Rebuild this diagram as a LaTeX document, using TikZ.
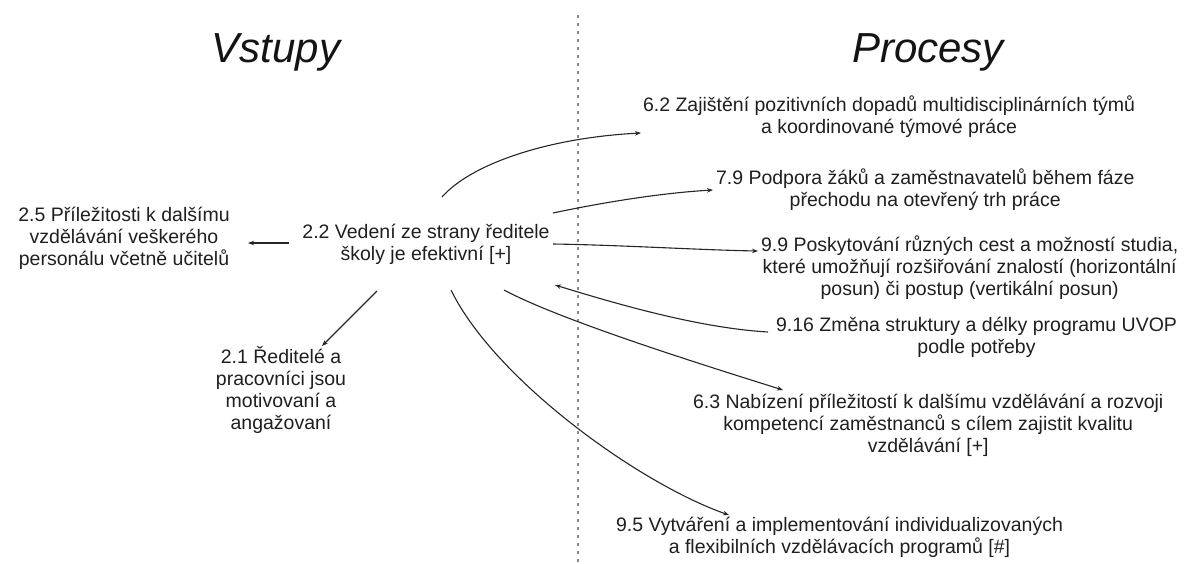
\documentclass[tikz,border=0pt]{standalone}
\usepackage{fontspec}
\setmainfont{Liberation Sans}
\usetikzlibrary{arrows.meta}
\begin{document}
\begin{tikzpicture}[x=1pt,y=-1pt,
  every node/.style={inner sep=0pt, outer sep=0pt},
  txt/.style={align=center, font=\fontsize{19.5}{22}\selectfont, text=black!88},
  head/.style={anchor=base, font=\fontsize{42}{48}\selectfont\itshape, text=black!92},
  link/.style={draw=black!85, line width=1.1pt, -{Stealth[length=6pt,width=4.5pt]}},
  divider/.style={draw=black!45, line width=1.3pt, dash pattern=on 3pt off 5pt}]
\useasboundingbox (0,0) rectangle (1189,563);

% column headings and the dotted divider
\node[head] (vst) at (276,62) {Vstupy};
\node[head] (proc) at (928,62) {Procesy};
\coordinate (divtop) at (578,15);
\coordinate (divbot) at (578,563);
\draw[divider] (divtop) -- (divbot);

% inputs
\node[txt] (n22) at (426,244) {2.2 Vedení ze strany ředitele\\školy je efektivní [+]};
\node[txt] (n25) at (124,238) {2.5 Příležitosti k dalšímu\\vzdělávání veškerého\\personálu včetně učitelů};
\node[txt] (n21) at (281,390) {2.1 Ředitelé a\\pracovníci jsou\\motivovaní a\\angažovaní};

% processes
\node[txt, anchor=west] (n62) at (643,117) {6.2 Zajištění pozitivních dopadů multidisciplinárních týmů\\a koordinované týmové práce};
\node[txt, anchor=west] (n79) at (716,190) {7.9 Podpora žáků a zaměstnavatelů během fáze\\přechodu na otevřený trh práce};
\node[txt, anchor=west] (n99) at (761,268) {9.9 Poskytování různých cest a možností studia,\\které umožňují rozšiřování znalostí (horizontální\\posun) či postup (vertikální posun)};
\node[txt, anchor=west] (n916) at (776,337) {9.16 Změna struktury a délky programu UVOP\\podle potřeby};
\node[txt, anchor=west] (n63) at (693,425) {6.3 Nabízení příležitostí k dalšímu vzdělávání a rozvoji\\kompetencí zaměstnanců s cílem zajistit kvalitu\\vzdělávání [+]};
\node[txt, anchor=west] (n95) at (616,537) {9.5 Vytváření a implementování individualizovaných\\a flexibilních vzdělávacích programů [\#]};

% links
\draw[link] ([shift={(16,-47)}]n22.center) .. controls (470,165) and (545,138) .. ([shift={(-2,16)}]n62.west);
\draw[link] ([shift={(127,-31)}]n22.center) .. controls (600,203) and (660,193) .. ([shift={(-3,0)}]n79.west);
\draw[link] ([shift={(127,0)}]n22.center) .. controls (620,245) and (700,250) .. ([shift={(-3,-17)}]n99.west);
\draw[link] ([shift={(-8,-5)}]n916.west) .. controls (700,328) and (620,305) .. ([shift={(129,41)}]n22.center);
\draw[link] ([shift={(78,46)}]n22.center) .. controls (560,320) and (700,364) .. ([shift={(90,-35)}]n63.west);
\draw[link] ([shift={(25,46)}]n22.center) .. controls (495,380) and (640,484) .. ([shift={(113,-22)}]n95.west);
\draw[link] ([shift={(-49,47)}]n22.center) -- ([shift={(41,-44)}]n21.center);
\draw[link] ([shift={(-137,-1)}]n22.center) -- ([shift={(124,5)}]n25.center);
\end{tikzpicture}
\end{document}
